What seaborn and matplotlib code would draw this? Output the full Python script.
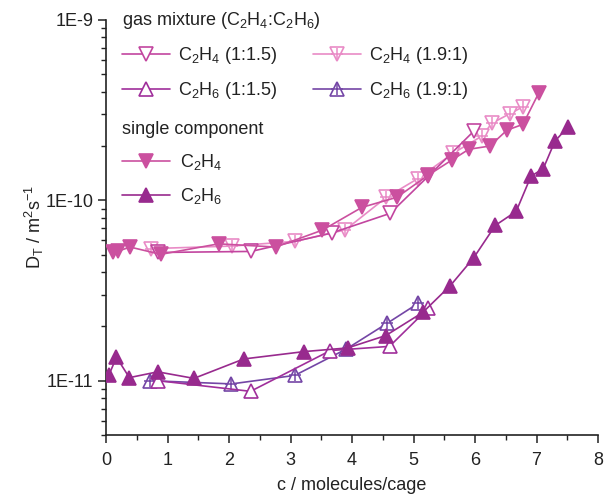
"""Transport diffusivity D_T vs loading c, single component and gas mixtures."""
import matplotlib
matplotlib.use("Agg")
import matplotlib.pyplot as plt
import matplotlib.ticker as mticker
from matplotlib.lines import Line2D
from matplotlib.legend_handler import HandlerTuple
import numpy as np
import pandas as pd
import seaborn as sns

# ── data ────────────────────────────────────────────────────────────────
# single component C2H4
c_c2h4_single = [0.11, 0.20, 0.39, 0.89, 1.83, 2.76, 3.52, 4.16, 4.73, 5.24,
                 5.62, 5.90, 6.24, 6.52, 6.78, 7.04]
d_c2h4_single = [5.16e-11, 5.23e-11, 5.51e-11, 5.02e-11, 5.74e-11, 5.51e-11,
                 6.84e-11, 9.14e-11, 1.04e-10, 1.38e-10, 1.67e-10, 1.92e-10,
                 2.00e-10, 2.45e-10, 2.64e-10, 3.96e-10]
# single component C2H6
c_c2h6_single = [0.05, 0.17, 0.38, 0.84, 1.43, 2.24, 3.22, 3.93, 4.55, 5.15,
                 5.60, 5.98, 6.33, 6.67, 6.91, 7.11, 7.30, 7.51]
d_c2h6_single = [1.08e-11, 1.35e-11, 1.04e-11, 1.12e-11, 1.03e-11, 1.32e-11,
                 1.45e-11, 1.52e-11, 1.78e-11, 2.39e-11, 3.37e-11, 4.81e-11,
                 7.26e-11, 8.69e-11, 1.36e-10, 1.50e-10, 2.13e-10, 2.55e-10]
# mixture 1:1.5
c_c2h4_mix15 = [0.85, 2.36, 3.67, 4.62, 5.24, 5.98]
d_c2h4_mix15 = [5.14e-11, 5.21e-11, 6.59e-11, 8.47e-11, 1.36e-10, 2.42e-10]
c_c2h6_mix15 = [0.85, 2.35, 3.65, 4.61, 5.24]
d_c2h6_mix15 = [1.00e-11, 8.73e-12, 1.47e-11, 1.55e-11, 2.52e-11]
# mixture 1.9:1
c_c2h4_mix19 = [0.73, 2.05, 3.08, 3.89, 4.56, 5.07, 5.65, 6.12, 6.27, 6.57, 6.78]
d_c2h4_mix19 = [5.40e-11, 5.58e-11, 5.93e-11, 6.86e-11, 1.04e-10, 1.32e-10,
                1.83e-10, 2.28e-10, 2.67e-10, 3.03e-10, 3.30e-10]
c_c2h6_mix19 = [0.72, 2.04, 3.07, 3.91, 4.57, 5.08]
d_c2h6_mix19 = [1.00e-11, 9.60e-12, 1.07e-11, 1.50e-11, 2.08e-11, 2.69e-11]

COL_C2H4 = "#cb509f"
COL_C2H6 = "#982a8e"
COL_C2H4_15 = "#c2459f"
COL_C2H6_15 = "#a02f9b"
COL_C2H4_19 = "#e98bc6"
COL_C2H6_19 = "#7446a6"
INK = "#222222"

sns.set_theme(style="ticks")
plt.rcParams["font.family"] = ["Liberation Sans", "DejaVu Sans"]
plt.rcParams["mathtext.fontset"] = "custom"
plt.rcParams["mathtext.rm"] = "Liberation Sans"
plt.rcParams["mathtext.default"] = "regular"

FS = 13
MS = 10

fig = plt.figure(figsize=(6.05, 4.95), dpi=100)
ax = fig.add_axes([106 / 605, 60 / 495, 492 / 605, 415 / 495])


def draw(c, d, color, marker, filled, cross=False, z=2):
    df = pd.DataFrame({"c": c, "D": d})
    sns.lineplot(
        data=df, x="c", y="D", ax=ax, sort=False, color=color, lw=1.2,
        marker=marker, markersize=MS, markeredgewidth=1.2,
        markerfacecolor=color if filled else "white", markeredgecolor=color,
        zorder=z,
    )
    if cross:
        sns.scatterplot(data=df, x="c", y="D", ax=ax, marker="+", s=(MS * 0.8) ** 2,
                        color=color, linewidth=1.1, zorder=z + 0.1, legend=False)


draw(c_c2h6_mix19, d_c2h6_mix19, COL_C2H6_19, "^", False, cross=True, z=2)
draw(c_c2h6_mix15, d_c2h6_mix15, COL_C2H6_15, "^", False, z=3)
draw(c_c2h6_single, d_c2h6_single, COL_C2H6, "^", True, z=4)
draw(c_c2h4_mix19, d_c2h4_mix19, COL_C2H4_19, "v", False, cross=True, z=2)
draw(c_c2h4_mix15, d_c2h4_mix15, COL_C2H4_15, "v", False, z=3)
draw(c_c2h4_single, d_c2h4_single, COL_C2H4, "v", True, z=4)

ax.set_yscale("log")
ax.set_xlim(0, 8)
ax.set_ylim(5e-12, 1e-9)
ax.xaxis.set_major_locator(mticker.MultipleLocator(1))
ax.xaxis.set_minor_locator(mticker.MultipleLocator(0.5))
ax.yaxis.set_major_locator(mticker.LogLocator(base=10, numticks=10))
ax.yaxis.set_minor_locator(mticker.LogLocator(base=10, subs=np.arange(2, 10), numticks=20))
ax.yaxis.set_major_formatter(mticker.FuncFormatter(lambda v, p: f"1E{int(round(np.log10(v)))}"))
ax.yaxis.set_minor_formatter(mticker.NullFormatter())
ax.tick_params(which="major", direction="out", length=6, width=1.1, labelsize=FS,
               colors=INK, pad=3)
ax.tick_params(axis="x", which="major", pad=6)
ax.tick_params(which="minor", direction="out", length=3.5, width=1.0, colors=INK)
for s in ("top", "right"):
    ax.spines[s].set_visible(False)
for s in ("left", "bottom"):
    ax.spines[s].set_linewidth(1.2)
    ax.spines[s].set_color(INK)

ax.set_xlabel("c / molecules/cage", fontsize=FS, color=INK, labelpad=6)
ax.set_ylabel("D$_T$ / m$^2$s$^{-1}$", fontsize=FS, color=INK, labelpad=0)


def handle(color, marker, filled, cross=False):
    h = Line2D([], [], color=color, lw=1.2, marker=marker, markersize=MS,
               markeredgewidth=1.2,
               markerfacecolor=color if filled else "white", markeredgecolor=color)
    if cross:
        p = Line2D([], [], color=color, lw=0, marker="+", markersize=MS * 0.8,
                   markeredgewidth=1.1)
        return (h, p)
    return h


mix_handles = [
    handle(COL_C2H4_15, "v", False),
    handle(COL_C2H6_15, "^", False),
    handle(COL_C2H4_19, "v", False, True),
    handle(COL_C2H6_19, "^", False, True),
]
mix_labels = ["C$_2$H$_4$ (1:1.5)", "C$_2$H$_6$ (1:1.5)",
              "C$_2$H$_4$ (1.9:1)", "C$_2$H$_6$ (1.9:1)"]
leg1 = ax.legend(mix_handles, mix_labels, ncol=2, frameon=False,
                 title="gas mixture (C$_2$H$_4$:C$_2$H$_6$)", title_fontsize=FS,
                 fontsize=FS, loc="upper left", bbox_to_anchor=(122 / 605, 1 - 10 / 495),
                 bbox_transform=fig.transFigure,
                 borderaxespad=0, borderpad=0, handlelength=2.65, handletextpad=0.45,
                 columnspacing=2.0, labelspacing=0.78, alignment="left",
                 handler_map={tuple: HandlerTuple(ndivide=1, pad=0)},
                 labelcolor=INK)
leg1.get_title().set_color(INK)
ax.add_artist(leg1)

single_handles = [handle(COL_C2H4, "v", True), handle(COL_C2H6, "^", True)]
single_labels = ["C$_2$H$_4$", "C$_2$H$_6$"]
leg2 = ax.legend(single_handles, single_labels, frameon=False,
                 title="single component", title_fontsize=FS, fontsize=FS,
                 loc="upper left", bbox_to_anchor=(122 / 605, 1 - 121 / 495),
                 bbox_transform=fig.transFigure,
                 borderaxespad=0, borderpad=0, handlelength=2.65, handletextpad=0.55,
                 labelspacing=0.78, alignment="left", labelcolor=INK)
leg2.get_title().set_color(INK)

fig.savefig("out.png", dpi=100)
